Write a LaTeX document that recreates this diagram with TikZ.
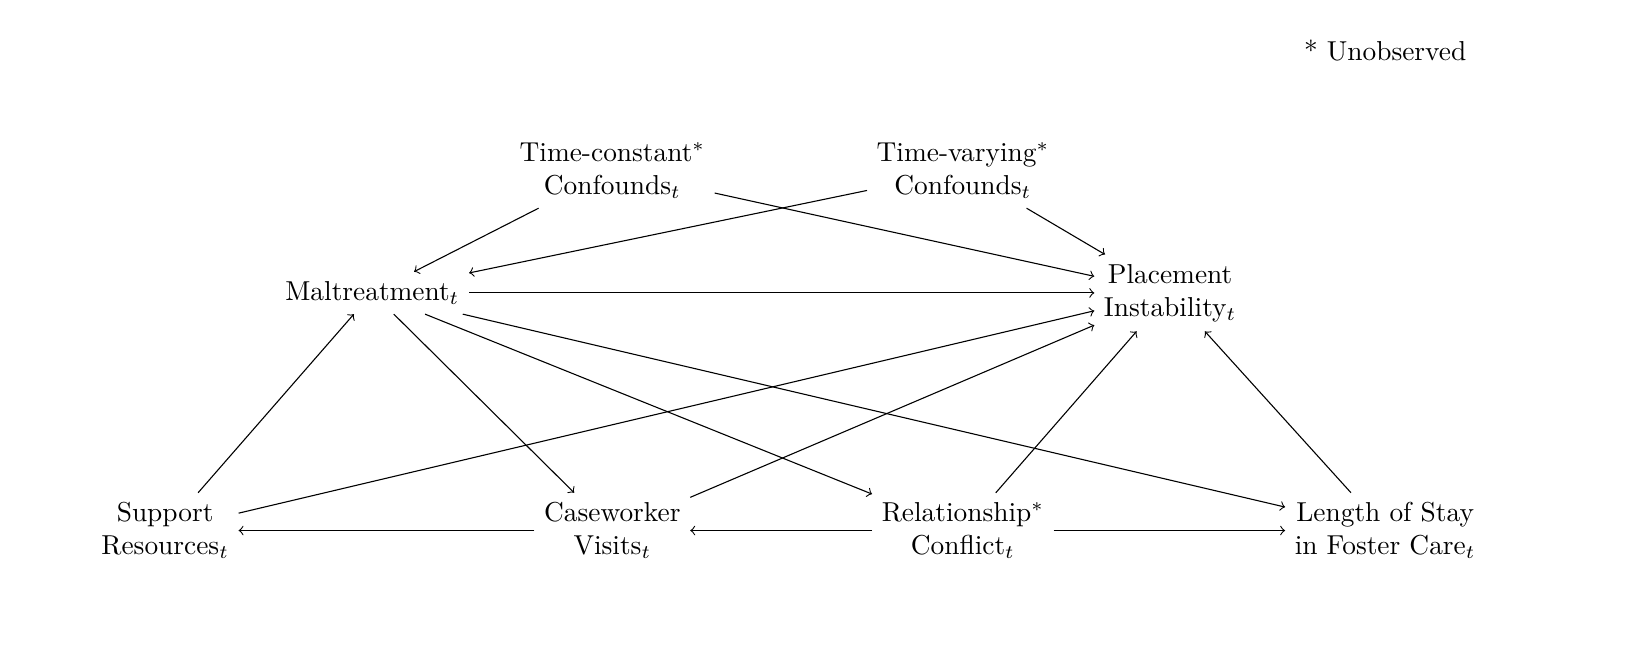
\documentclass[tikz,border=0pt]{standalone}
\usetikzlibrary{positioning}

\begin{document}
\begin{tikzpicture}[var/.style={align=center},->]
\useasboundingbox (0,0) rectangle (21.09,8.54);

\node[var] (TC) at (7.86,6.35) {Time-constant$^*$\\Confounds$_t$};
\node[var] (TV) at (12.36,6.35) {Time-varying$^*$\\Confounds$_t$};
\node[var] (M) at (4.78,4.78) {Maltreatment$_t$};
\node[var] (PI) at (15.02,4.78) {Placement\\Instability$_t$};
\node[var] (SR) at (2.12,1.73) {Support\\Resources$_t$};
\node[var] (CV) at (7.86,1.73) {Caseworker\\Visits$_t$};
\node[var] (RC) at (12.36,1.73) {Relationship$^*$\\Conflict$_t$};
\node[var] (LS) at (17.78,1.73) {Length of Stay\\in Foster Care$_t$};
\node (U) at (17.78,7.89) {* Unobserved};

\draw (TC) -- (M);
\draw (TC) -- (PI);
\draw (TV) -- (M);
\draw (TV) -- (PI);
\draw (M) -- (PI);
\draw (M) -- (CV);
\draw (M) -- (RC);
\draw (M) -- (LS);
\draw (SR) -- (M);
\draw (SR) -- (PI);
\draw (CV) -- (SR);
\draw (CV) -- (PI);
\draw (RC) -- (CV);
\draw (RC) -- (PI);
\draw (RC) -- (LS);
\draw (LS) -- (PI);

\end{tikzpicture}
\end{document}
